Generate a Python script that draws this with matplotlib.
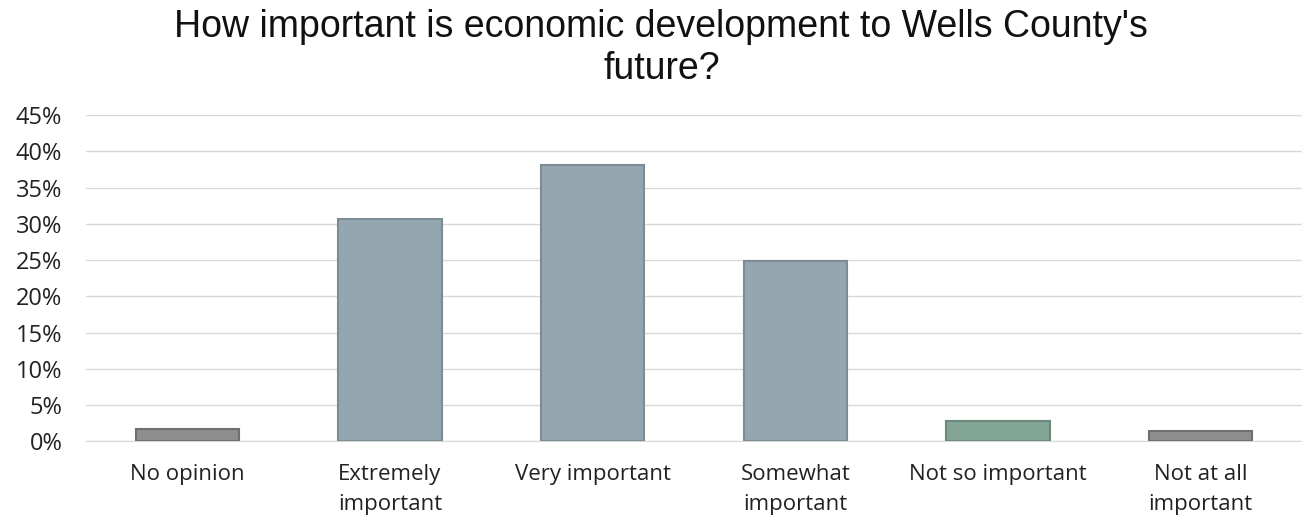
import numpy as np
import matplotlib.pyplot as plt
from matplotlib.ticker import PercentFormatter

# Survey answers and share of respondents (%)
categories = ["No opinion", "Extremely\nimportant", "Very important",
              "Somewhat\nimportant", "Not so important", "Not at all\nimportant"]
shares = [1.7, 30.7, 38.1, 24.8, 2.8, 1.4]
bar_colors = ["#8e8e8e", "#94a7b1", "#94a7b1", "#94a7b1", "#82a595", "#8e8e8e"]
edge_colors = ["#6f6f6f", "#7d8b92", "#7d8b92", "#7d8b92", "#6b8a7c", "#6f6f6f"]

fig = plt.figure(figsize=(13.02, 5.18), dpi=100)
ax = fig.add_axes([0.066, 0.148, 0.934, 0.63])

x = np.arange(len(categories))
ax.bar(x, shares, width=0.51, color=bar_colors, edgecolor=edge_colors,
       linewidth=1.5, zorder=3)

ax.set_ylim(0, 45)
ax.set_yticks(np.arange(0, 46, 5))
ax.yaxis.set_major_formatter(PercentFormatter(decimals=0))
ax.set_xlim(-0.5, len(categories) - 0.5)
ax.set_xticks(x)
ax.set_xticklabels(categories, fontsize=16, family="Open Sans",
                   color="#222222", linespacing=1.6)
for lbl in ax.get_yticklabels():
    lbl.set_fontsize(17)
    lbl.set_family("Open Sans")
    lbl.set_color("#222222")

ax.grid(axis="y", color="#d9d9d9", linewidth=1, zorder=0)
ax.tick_params(length=0)
ax.tick_params(axis="x", pad=16)
ax.tick_params(axis="y", pad=17)
for side in ["top", "right", "left"]:
    ax.spines[side].set_visible(False)
ax.spines["bottom"].set_color("#d9d9d9")

fig.text(0.508, 0.982,
         "How important is economic development to Wells County's\nfuture?",
         ha="center", va="top", fontsize=27, family="Liberation Sans",
         color="#111111", linespacing=1.22)

plt.savefig("out.png", dpi=100)
